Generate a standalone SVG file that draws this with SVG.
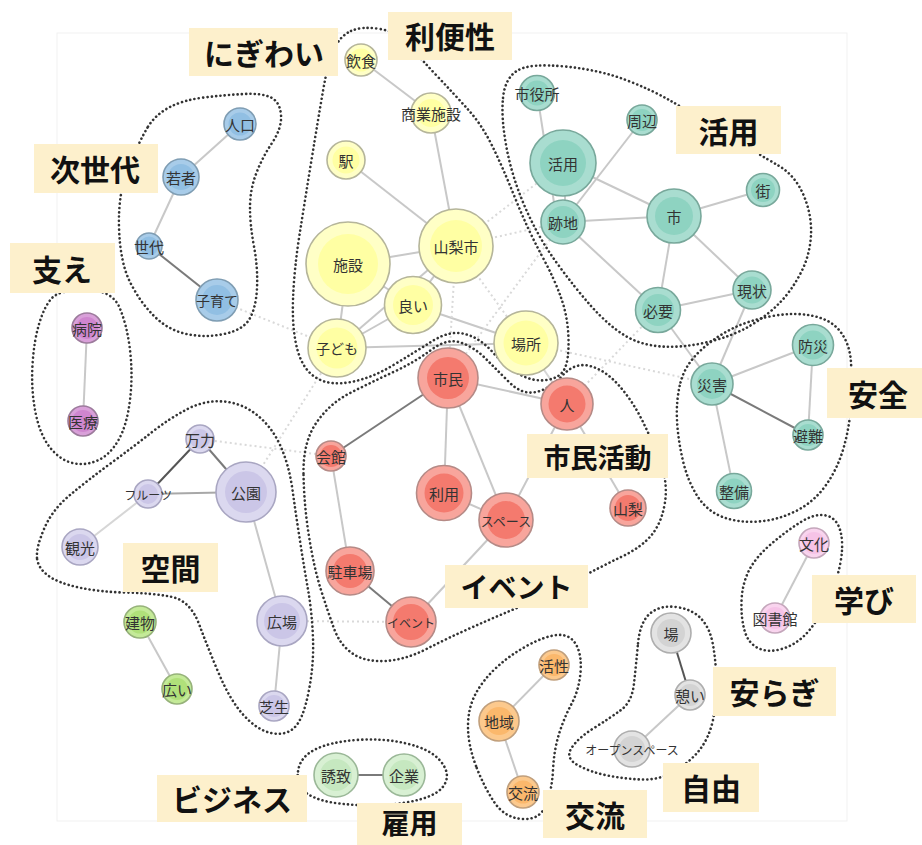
<svg xmlns="http://www.w3.org/2000/svg" width="922" height="845" viewBox="0 0 922 845">
<style>
.bg{fill:#fff}
.frame{fill:none;stroke:#f1f1f1;stroke-width:1}
.hull{fill:none;stroke:#333;stroke-width:2.6;stroke-dasharray:0.1 4.2;stroke-linecap:round}
.e{stroke:#c8c8c8;stroke-width:2;fill:none}
.el{stroke:#d6d6d6;stroke-width:2;fill:none}
.em{stroke:#a8a8a8;stroke-width:2;fill:none}
.ed{stroke:#7a7a7a;stroke-width:2;fill:none}
.edk{stroke:#555;stroke-width:2;fill:none}
.edot{stroke:#d9d9d9;stroke-width:2;stroke-dasharray:2 3;fill:none}
.box{fill:#fdf0cc}
.lab{font-family:"Noto Sans CJK JP",sans-serif;font-weight:bold;font-size:30px;fill:#111;text-anchor:middle;dominant-baseline:central}
.nt{font-family:"Noto Sans CJK JP",sans-serif;font-size:15px;fill:#333;text-anchor:middle;dominant-baseline:central}
.o{stroke-width:1.6}
.blue .o{fill:#a8cce9;stroke:#7f9db3}.blue .i{fill:#91bfe3}
.mag .o{fill:#d9a0d9;stroke:#9c7b9c}.mag .i{fill:#cf86cf}
.lav .o{fill:#dbd8ef;stroke:#a9a6c2}.lav .i{fill:#cbc6e7}
.lime .o{fill:#c4ea98;stroke:#96b27a}.lime .i{fill:#b0e07a}
.mint .o{fill:#d8f0d3;stroke:#9bb898}.mint .i{fill:#c6e8c0}
.yel .o{fill:#ffffc6;stroke:#b5b59a}.yel .i{fill:#ffffa3}
.red .o{fill:#f8a59c;stroke:#b58a86}.red .i{fill:#f47a6e}
.teal .o{fill:#a9ddd0;stroke:#78a89b}.teal .i{fill:#8ed3c1}
.pink .o{fill:#f9d4ee;stroke:#c4a6bb}.pink .i{fill:#f6c3e7}
.gray .o{fill:#e3e3e3;stroke:#aeaeae}.gray .i{fill:#d3d3d3}
.orng .o{fill:#fcc98d;stroke:#c09f7c}.orng .i{fill:#fbb86c}
</style>
<rect class="bg" x="0" y="0" width="922" height="845"/>
<rect class="frame" x="57" y="33" width="790" height="788"/>

<g id="connectors">
<line class="e" x1="240" y1="124" x2="181" y2="177"/>
<line class="e" x1="181" y1="177" x2="149" y2="246"/>
<line class="ed" x1="149" y1="246" x2="217" y2="300"/>
<line class="e" x1="87" y1="328" x2="83" y2="421"/>
<line class="edk" x1="200" y1="439" x2="148" y2="494"/>
<line class="ed" x1="200" y1="439" x2="246" y2="492"/>
<line class="em" x1="148" y1="494" x2="246" y2="492"/>
<line class="el" x1="148" y1="494" x2="80" y2="547"/>
<line class="e" x1="246" y1="492" x2="282" y2="621"/>
<line class="e" x1="282" y1="621" x2="274" y2="706"/>
<line class="e" x1="140" y1="622" x2="177" y2="689"/>
<line class="ed" x1="336" y1="775" x2="404" y2="775"/>
<line class="e" x1="361" y1="60" x2="431" y2="113"/>
<line class="e" x1="431" y1="113" x2="456" y2="246"/>
<line class="e" x1="346" y1="160" x2="456" y2="246"/>
<line class="e" x1="348" y1="264" x2="456" y2="246"/>
<line class="e" x1="348" y1="264" x2="413" y2="305"/>
<line class="e" x1="348" y1="264" x2="337" y2="348"/>
<line class="e" x1="456" y1="246" x2="413" y2="305"/>
<line class="e" x1="456" y1="246" x2="337" y2="348"/>
<line class="e" x1="413" y1="305" x2="337" y2="348"/>
<line class="e" x1="413" y1="305" x2="526" y2="343"/>
<line class="e" x1="337" y1="348" x2="526" y2="343"/>
<line class="el" x1="526" y1="343" x2="567" y2="404"/>
<line class="e" x1="448" y1="378" x2="567" y2="404"/>
<line class="e" x1="448" y1="378" x2="444" y2="493"/>
<line class="e" x1="448" y1="378" x2="506" y2="520"/>
<line class="ed" x1="448" y1="378" x2="331" y2="456"/>
<line class="e" x1="567" y1="404" x2="506" y2="520"/>
<line class="e" x1="567" y1="404" x2="628" y2="508"/>
<line class="e" x1="331" y1="456" x2="350" y2="571"/>
<line class="e" x1="444" y1="493" x2="506" y2="520"/>
<line class="e" x1="506" y1="520" x2="411" y2="622"/>
<line class="ed" x1="350" y1="571" x2="411" y2="622"/>
<line class="e" x1="537" y1="93" x2="557" y2="222"/>
<line class="e" x1="565" y1="163" x2="565" y2="222"/>
<line class="e" x1="642" y1="120" x2="563" y2="222"/>
<line class="e" x1="563" y1="163" x2="674" y2="216"/>
<line class="e" x1="563" y1="222" x2="674" y2="216"/>
<line class="e" x1="563" y1="222" x2="658" y2="310"/>
<line class="e" x1="674" y1="216" x2="763" y2="190"/>
<line class="e" x1="674" y1="216" x2="658" y2="310"/>
<line class="e" x1="674" y1="216" x2="752" y2="290"/>
<line class="e" x1="658" y1="310" x2="752" y2="290"/>
<line class="e" x1="658" y1="310" x2="712" y2="384"/>
<line class="e" x1="752" y1="290" x2="712" y2="384"/>
<line class="e" x1="712" y1="384" x2="813" y2="345"/>
<line class="e" x1="813" y1="345" x2="808" y2="435"/>
<line class="ed" x1="712" y1="384" x2="808" y2="435"/>
<line class="e" x1="712" y1="384" x2="734" y2="491"/>
<line class="e" x1="814" y1="543" x2="775" y2="618"/>
<line class="edk" x1="671" y1="633" x2="690" y2="695"/>
<line class="e" x1="690" y1="695" x2="632" y2="749"/>
<line class="e" x1="554" y1="665" x2="499" y2="721"/>
<line class="e" x1="499" y1="721" x2="523" y2="792"/>
<line class="edot" x1="217" y1="300" x2="337" y2="348"/>
<line class="edot" x1="337" y1="348" x2="246" y2="492"/>
<line class="edot" x1="200" y1="439" x2="331" y2="456"/>
<line class="edot" x1="282" y1="621" x2="411" y2="622"/>
<line class="edot" x1="456" y1="246" x2="563" y2="163"/>
<line class="edot" x1="456" y1="246" x2="563" y2="222"/>
<line class="edot" x1="456" y1="246" x2="448" y2="378"/>
<line class="edot" x1="456" y1="246" x2="526" y2="343"/>
<line class="edot" x1="448" y1="378" x2="563" y2="222"/>
<line class="edot" x1="526" y1="343" x2="712" y2="384"/>
<line class="edot" x1="567" y1="404" x2="658" y2="310"/>
</g>

<g id="hulls">
<path id="hull-jisedai" class="hull" d="M147.5,127.5 Q140,140 129,166 Q118,192 119,227 Q120,262 130,282 Q140,302 154,316 Q168,330 186.5,334 Q205,338 224,334 Q243,330 249.5,319 Q256,308 257,288 Q258,268 254,246.5 Q250,225 250,207.5 Q250,190 256,174 Q262,158 272,143 Q282,128 281,115 Q280,102 271,97.5 Q262,93 243.5,94 Q225,95 204,97.5 Q183,100 169,107.5 Q155,115 147.5,127.5 Z"/>
<path id="hull-sasae" class="hull" d="M52.5,297.5 Q60,290 86,290 Q112,290 119.5,307.5 Q127,325 130,350 Q133,375 130,400 Q127,425 118.5,440 Q110,455 97.5,460.5 Q85,466 72.5,463 Q60,460 50,447.5 Q40,435 35.5,412.5 Q31,390 32.5,365 Q34,340 39.5,322.5 Q45,305 52.5,297.5 Z"/>
<path id="hull-nigiwai" class="hull" d="M351,31 Q362,26 380,29 Q398,32 409,45 Q420,58 437.5,76.5 Q455,95 468.5,110 Q482,125 492.5,146.5 Q503,168 515.5,199 Q528,230 541.5,255 Q555,280 561.5,299 Q568,318 568.5,339 Q569,360 564.5,369 Q560,378 546.5,380 Q533,382 519,374 Q505,366 492.5,352 Q480,338 465,334 Q450,330 432.5,341 Q415,352 393.5,365 Q372,378 351,382 Q330,386 316.5,378 Q303,370 297.5,350 Q292,330 293,300 Q294,270 299.5,235 Q305,200 311.5,160 Q318,120 323,91 Q328,62 334,49 Q340,36 351,31 Z"/>
<path id="hull-katsuyou" class="hull" d="M503,98 Q505,78 517.5,70.5 Q530,63 565,66.5 Q600,70 626,80 Q652,90 671,101 Q690,112 725,133.5 Q760,155 777.5,165 Q795,175 803.5,195 Q812,215 811,235 Q810,255 801,272.5 Q792,290 780,302.5 Q768,315 750.5,325.5 Q733,336 708,342 Q683,348 661.5,346.5 Q640,345 624,335 Q608,325 591.5,306.5 Q575,288 556.5,262.5 Q538,237 525,207 Q512,177 506.5,147.5 Q501,118 503,98 Z"/>
<path id="hull-anzen" class="hull" d="M680.5,382.5 Q685,365 700,351 Q715,337 732.5,328.5 Q750,320 772.5,316 Q795,312 813.5,316 Q832,320 841,332.5 Q850,345 851,362.5 Q852,380 851,402.5 Q850,425 844,446.5 Q838,468 826,485 Q814,502 796,511 Q778,520 759,521.5 Q740,523 724,517.5 Q708,512 698,497 Q688,482 683,461 Q678,440 677,420 Q676,400 680.5,382.5 Z"/>
<path id="hull-shimin" class="hull" d="M303.5,473.5 Q303,442 316.5,422.5 Q330,403 351,392.5 Q372,382 393.5,372 Q415,362 431,350 Q447,338 460.5,342.5 Q474,347 485.5,358.5 Q497,370 509.5,382.5 Q522,395 536,392 Q550,389 562.5,375.5 Q575,362 590,366 Q605,370 618.5,385 Q632,400 642,420 Q652,440 660,461 Q668,482 665,502 Q662,522 652,534.5 Q642,547 621,557 Q600,567 577.5,579.5 Q555,592 527.5,603.5 Q500,615 475,626 Q450,637 427.5,648.5 Q405,660 385,661 Q365,662 352.5,653.5 Q340,645 334,628.5 Q328,612 321,590 Q314,568 309,536.5 Q304,505 303.5,473.5 Z"/>
<path id="hull-kuukan" class="hull" d="M37,558 Q36,548 44,529 Q52,510 70,495 Q88,480 110.5,463.5 Q133,447 151.5,432.5 Q170,418 187.5,409 Q205,400 223.5,401.5 Q242,403 257,415 Q272,427 280.5,446 Q289,465 292.5,490 Q296,515 300,541 Q304,567 308,589.5 Q312,612 313,638.5 Q314,665 308.5,692.5 Q303,720 294,728 Q285,736 271,733 Q257,730 243.5,715 Q230,700 219,674 Q208,648 199,624 Q190,600 170,596.5 Q150,593 125,592.5 Q100,592 79,587.5 Q58,583 48,575.5 Q38,568 37,558 Z"/>
<path id="hull-koyou" class="hull" d="M298,771.5 Q300,757 315,749.5 Q330,742 356.5,740 Q383,738 406.5,743.5 Q430,749 440,760.5 Q450,772 445.5,782.5 Q441,793 423,798.5 Q405,804 382.5,805 Q360,806 339,803.5 Q318,801 307,793.5 Q296,786 298,771.5 Z"/>
<path id="hull-kouryuu" class="hull" d="M476,766 Q468,745 468,726.5 Q468,708 475.5,694 Q483,680 496.5,667.5 Q510,655 527.5,645.5 Q545,636 557.5,635 Q570,634 576,644.5 Q582,655 580.5,672.5 Q579,690 571.5,704 Q564,718 559,734 Q554,750 553,770 Q552,790 546,805 Q540,820 522.5,819 Q505,818 494.5,802.5 Q484,787 476,766 Z"/>
<path id="hull-manabi" class="hull" d="M744.5,630.5 Q741,618 741.5,601.5 Q742,585 748.5,571.5 Q755,558 770,545 Q785,532 800,522.5 Q815,513 826,515.5 Q837,518 840.5,531.5 Q844,545 840,565 Q836,585 825.5,605 Q815,625 805,635 Q795,645 781.5,649 Q768,653 758,648 Q748,643 744.5,630.5 Z"/>
<path id="hull-yasuragi" class="hull" d="M638,643.5 Q640,622 650,613.5 Q660,605 676,607 Q692,609 701,618.5 Q710,628 713,645 Q716,662 716.5,682 Q717,702 713,720 Q709,738 699.5,750 Q690,762 675,771 Q660,780 642.5,779.5 Q625,779 607.5,775.5 Q590,772 577.5,765 Q565,758 571.5,748 Q578,738 594,728 Q610,718 621,710 Q632,702 634,683.5 Q636,665 638,643.5 Z"/>
</g>

<g id="n-jinkou" class="blue" transform="translate(240,124)"><circle class="o" r="16"/><circle class="i" r="11.5"/><text class="nt">人口</text></g>
<g id="n-wakamono" class="blue" transform="translate(181,177)"><circle class="o" r="18"/><circle class="i" r="13"/><text class="nt">若者</text></g>
<g id="n-sedai" class="blue" transform="translate(149,246)"><circle class="o" r="13"/><circle class="i" r="9.5"/><text class="nt">世代</text></g>
<g id="n-kosodate" class="blue" transform="translate(217,300)"><circle class="o" r="21"/><circle class="i" r="15"/><text class="nt" style="font-size:14px">子育て</text></g>
<g id="n-byouin" class="mag" transform="translate(87,328)"><circle class="o" r="15"/><circle class="i" r="11"/><text class="nt">病院</text></g>
<g id="n-iryou" class="mag" transform="translate(83,421)"><circle class="o" r="15"/><circle class="i" r="11"/><text class="nt">医療</text></g>
<g id="n-manriki" class="lav" transform="translate(200,439)"><circle class="o" r="14"/><circle class="i" r="10"/><text class="nt">万力</text></g>
<g id="n-kouen" class="lav" transform="translate(246,492)"><circle class="o" r="30"/><circle class="i" r="21"/><text class="nt">公園</text></g>
<g id="n-fruits" class="lav" transform="translate(148,494)"><circle class="o" r="14"/><circle class="i" r="10"/><text class="nt" style="font-size:12px">フルーツ</text></g>
<g id="n-kankou" class="lav" transform="translate(80,547)"><circle class="o" r="18"/><circle class="i" r="13"/><text class="nt">観光</text></g>
<g id="n-hiroba" class="lav" transform="translate(282,621)"><circle class="o" r="25"/><circle class="i" r="18"/><text class="nt">広場</text></g>
<g id="n-shibafu" class="lav" transform="translate(274,706)"><circle class="o" r="15"/><circle class="i" r="11"/><text class="nt">芝生</text></g>
<g id="n-tatemono" class="lime" transform="translate(140,622)"><circle class="o" r="16"/><circle class="i" r="11.5"/><text class="nt">建物</text></g>
<g id="n-hiroi" class="lime" transform="translate(177,689)"><circle class="o" r="15"/><circle class="i" r="11"/><text class="nt">広い</text></g>
<g id="n-yuuchi" class="mint" transform="translate(336,775)"><circle class="o" r="22"/><circle class="i" r="16"/><text class="nt">誘致</text></g>
<g id="n-kigyou" class="mint" transform="translate(404,775)"><circle class="o" r="21"/><circle class="i" r="15"/><text class="nt">企業</text></g>
<g id="n-inshoku" class="yel" transform="translate(361,60)"><circle class="o" r="16"/><circle class="i" r="11.5"/><text class="nt">飲食</text></g>
<g id="n-shougyoushisetsu" class="yel" transform="translate(431,113)"><circle class="o" r="20"/><circle class="i" r="14"/><text class="nt">商業施設</text></g>
<g id="n-eki" class="yel" transform="translate(346,160)"><circle class="o" r="19"/><circle class="i" r="13.5"/><text class="nt">駅</text></g>
<g id="n-yamanashishi" class="yel" transform="translate(456,246)"><circle class="o" r="37"/><circle class="i" r="26"/><text class="nt">山梨市</text></g>
<g id="n-shisetsu" class="yel" transform="translate(348,264)"><circle class="o" r="42"/><circle class="i" r="30"/><text class="nt">施設</text></g>
<g id="n-yoi" class="yel" transform="translate(413,305)"><circle class="o" r="28.5"/><circle class="i" r="20"/><text class="nt">良い</text></g>
<g id="n-kodomo" class="yel" transform="translate(337,348)"><circle class="o" r="29"/><circle class="i" r="20.5"/><text class="nt" style="font-size:14px">子ども</text></g>
<g id="n-basho" class="yel" transform="translate(526,343)"><circle class="o" r="32"/><circle class="i" r="22.5"/><text class="nt">場所</text></g>
<g id="n-shimin" class="red" transform="translate(448,378)"><circle class="o" r="30"/><circle class="i" r="21"/><text class="nt">市民</text></g>
<g id="n-hito" class="red" transform="translate(567,404)"><circle class="o" r="26"/><circle class="i" r="18.5"/><text class="nt">人</text></g>
<g id="n-kaikan" class="red" transform="translate(331,456)"><circle class="o" r="15"/><circle class="i" r="11"/><text class="nt">会館</text></g>
<g id="n-riyou" class="red" transform="translate(444,493)"><circle class="o" r="27.5"/><circle class="i" r="19.5"/><text class="nt">利用</text></g>
<g id="n-space" class="red" transform="translate(506,520)"><circle class="o" r="27"/><circle class="i" r="19"/><text class="nt" style="font-size:13px">スペース</text></g>
<g id="n-yamanashi" class="red" transform="translate(628,508)"><circle class="o" r="18"/><circle class="i" r="13"/><text class="nt">山梨</text></g>
<g id="n-chuushajou" class="red" transform="translate(350,571)"><circle class="o" r="24"/><circle class="i" r="17"/><text class="nt">駐車場</text></g>
<g id="n-event" class="red" transform="translate(411,622)"><circle class="o" r="25"/><circle class="i" r="18"/><text class="nt" style="font-size:12px">イベント</text></g>
<g id="n-shiyakusho" class="teal" transform="translate(537,93)"><circle class="o" r="17.5"/><circle class="i" r="12.5"/><text class="nt">市役所</text></g>
<g id="n-shuuhen" class="teal" transform="translate(642,120)"><circle class="o" r="15"/><circle class="i" r="11"/><text class="nt">周辺</text></g>
<g id="n-katsuyou" class="teal" transform="translate(563,163)"><circle class="o" r="33"/><circle class="i" r="23"/><text class="nt">活用</text></g>
<g id="n-atochi" class="teal" transform="translate(563,222)"><circle class="o" r="22"/><circle class="i" r="16"/><text class="nt">跡地</text></g>
<g id="n-shi" class="teal" transform="translate(674,216)"><circle class="o" r="27"/><circle class="i" r="19"/><text class="nt">市</text></g>
<g id="n-machi" class="teal" transform="translate(763,190)"><circle class="o" r="16.5"/><circle class="i" r="12"/><text class="nt">街</text></g>
<g id="n-hitsuyou" class="teal" transform="translate(658,310)"><circle class="o" r="22.5"/><circle class="i" r="16"/><text class="nt">必要</text></g>
<g id="n-genjou" class="teal" transform="translate(752,290)"><circle class="o" r="19"/><circle class="i" r="13.5"/><text class="nt">現状</text></g>
<g id="n-bousai" class="teal" transform="translate(813,345)"><circle class="o" r="20.5"/><circle class="i" r="14.5"/><text class="nt">防災</text></g>
<g id="n-saigai" class="teal" transform="translate(712,384)"><circle class="o" r="21"/><circle class="i" r="15"/><text class="nt">災害</text></g>
<g id="n-hinan" class="teal" transform="translate(808,435)"><circle class="o" r="15"/><circle class="i" r="11"/><text class="nt">避難</text></g>
<g id="n-seibi" class="teal" transform="translate(734,491)"><circle class="o" r="17.5"/><circle class="i" r="12.5"/><text class="nt">整備</text></g>
<g id="n-bunka" class="pink" transform="translate(814,543)"><circle class="o" r="15"/><circle class="i" r="11"/><text class="nt">文化</text></g>
<g id="n-toshokan" class="pink" transform="translate(775,618)"><circle class="o" r="15"/><circle class="i" r="11"/><text class="nt">図書館</text></g>
<g id="n-ba" class="gray" transform="translate(671,633)"><circle class="o" r="20"/><circle class="i" r="14"/><text class="nt">場</text></g>
<g id="n-ikoi" class="gray" transform="translate(690,695)"><circle class="o" r="15"/><circle class="i" r="11"/><text class="nt">憩い</text></g>
<g id="n-openspace" class="gray" transform="translate(632,749)"><circle class="o" r="18"/><circle class="i" r="13"/><text class="nt" style="font-size:12px">オープンスペース</text></g>
<g id="n-kassei" class="orng" transform="translate(554,665)"><circle class="o" r="15"/><circle class="i" r="11"/><text class="nt">活性</text></g>
<g id="n-chiiki" class="orng" transform="translate(499,721)"><circle class="o" r="20"/><circle class="i" r="14"/><text class="nt">地域</text></g>
<g id="n-kouryuu" class="orng" transform="translate(523,792)"><circle class="o" r="16"/><circle class="i" r="11.5"/><text class="nt">交流</text></g>

<g id="lab-nigiwai"><rect class="box" x="189" y="28" width="149" height="48"/><text class="lab" x="264" y="52">にぎわい</text></g>
<g id="lab-benri"><rect class="box" x="388" y="12" width="124" height="48"/><text class="lab" x="450" y="35">利便性</text></g>
<g id="lab-katsuyou"><rect class="box" x="676" y="106" width="105" height="48"/><text class="lab" x="728.5" y="130">活用</text></g>
<g id="lab-jisedai"><rect class="box" x="34" y="144" width="124" height="49"/><text class="lab" x="95" y="168">次世代</text></g>
<g id="lab-sasae"><rect class="box" x="10" y="243" width="105" height="50"/><text class="lab" x="62" y="268">支え</text></g>
<g id="lab-kuukan"><rect class="box" x="123" y="543" width="95" height="49"/><text class="lab" x="170.5" y="567">空間</text></g>
<g id="lab-anzen"><rect class="box" x="827" y="368" width="95" height="50"/><text class="lab" x="878" y="393">安全</text></g>
<g id="lab-shiminkatsudou"><rect class="box" x="527" y="434" width="141" height="44"/><text class="lab" x="597.5" y="456" style="font-size:27px">市民活動</text></g>
<g id="lab-event"><rect class="box" x="445" y="565" width="143" height="43"/><text class="lab" x="516.5" y="586" style="font-size:28px">イベント</text></g>
<g id="lab-manabi"><rect class="box" x="812" y="575" width="104" height="48"/><text class="lab" x="864" y="599">学び</text></g>
<g id="lab-yasuragi"><rect class="box" x="713" y="667" width="123" height="49"/><text class="lab" x="774.5" y="691">安らぎ</text></g>
<g id="lab-jiyuu"><rect class="box" x="663" y="763" width="96" height="49"/><text class="lab" x="711" y="787">自由</text></g>
<g id="lab-kouryuu"><rect class="box" x="543" y="790" width="104" height="48"/><text class="lab" x="595" y="814">交流</text></g>
<g id="lab-koyou"><rect class="box" x="357" y="803" width="105" height="42"/><text class="lab" x="409.5" y="822" style="font-size:28px">雇用</text></g>
<g id="lab-business"><rect class="box" x="157" y="775" width="150" height="47"/><text class="lab" x="232" y="798">ビジネス</text></g>
</svg>
